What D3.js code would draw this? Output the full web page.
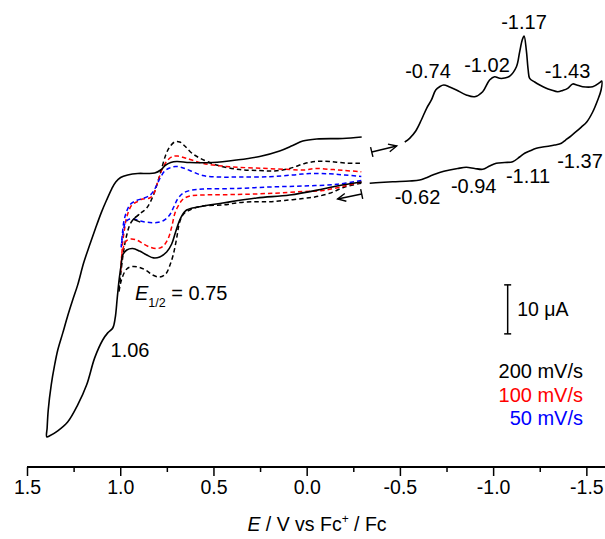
<!DOCTYPE html>
<html><head><meta charset="utf-8">
<script src="https://cdn.jsdelivr.net/npm/d3@7"></script>
<style>
body{margin:0;background:#fff}
svg{display:block}
text{font-family:"Liberation Sans",Arial,Helvetica,sans-serif;fill:#000}
</style>
</head><body><div id="chart"></div>
<script>
// ---------- DATA (E in V vs Fc+/Fc, I in µA, cathodic up) ----------
// wide scan, positive region (solid black)
const wideScanPos = [[-0.295,-0.41],[-0.177,-1.12],[-0.086,-1.84],[0.091,-3.06],[0.268,-3.67],[0.450,-4.69],[0.574,-5.45],[0.644,-6.12],[0.676,-7.76],[0.703,-10.6],[0.724,-13.06],[0.751,-14.7],[0.788,-15.7],[0.821,-15.9],[0.858,-15.3],[0.896,-14.5],[0.933,-13.98],[0.965,-14.29],[0.987,-15.3],[0.995,-17.35],[1.006,-20.4],[1.016,-24.08],[1.027,-28.16],[1.040,-30.2],[1.067,-31.2],[1.094,-32.65],[1.137,-36.3],[1.180,-41.8],[1.228,-45.9],[1.282,-49.4],[1.335,-51.2],[1.378,-52.2],[1.394,-52.4],[1.392,-50.6],[1.386,-46.9],[1.370,-41.8],[1.352,-37.8],[1.335,-34.7],[1.308,-31.2],[1.282,-27.76],[1.255,-24.5],[1.228,-21.4],[1.196,-16.9],[1.164,-13.27],[1.132,-9.8],[1.100,-6.5],[1.073,-4.08],[1.046,-1.84],[1.024,-0.41],[0.998,0.51],[0.960,1.02],[0.906,1.33],[0.853,1.33],[0.815,1.43],[0.783,2.04],[0.756,3.06],[0.729,3.57],[0.697,3.78],[0.627,3.57],[0.504,3.57],[0.375,4.08],[0.252,4.80],[0.145,5.92],[0.075,7.04],[0.021,7.96],[-0.054,8.37],[-0.193,8.47],[-0.295,8.78]];
// wide scan, negative region (solid black)
const wideScanNeg = [[-0.526,7.76],[-0.552,8.51],[-0.585,10.0],[-0.615,12.24],[-0.644,14.69],[-0.669,16.33],[-0.692,18.37],[-0.713,19.04],[-0.735,19.39],[-0.767,18.98],[-0.803,18.37],[-0.856,17.35],[-0.901,17.0],[-0.944,18.02],[-0.981,20.41],[-1.008,21.08],[-1.035,20.75],[-1.062,20.8],[-1.089,21.2],[-1.125,23.12],[-1.142,26.1],[-1.156,28.57],[-1.166,29.39],[-1.178,26.5],[-1.188,22.45],[-1.196,20.75],[-1.223,20.0],[-1.250,19.39],[-1.282,18.78],[-1.312,18.37],[-1.346,18.0],[-1.373,18.27],[-1.400,18.7],[-1.427,19.6],[-1.448,19.39],[-1.480,19.04],[-1.534,19.04],[-1.571,19.86],[-1.582,20.2],[-1.579,18.37],[-1.561,16.33],[-1.534,13.88],[-1.502,11.84],[-1.473,10.8],[-1.443,9.8],[-1.420,9.08],[-1.389,8.16],[-1.366,7.49],[-1.330,7.14],[-1.303,6.94],[-1.266,6.73],[-1.232,6.47],[-1.196,5.92],[-1.169,5.45],[-1.142,4.69],[-1.105,3.73],[-1.062,3.57],[-1.017,3.41],[-0.981,2.86],[-0.944,2.18],[-0.901,2.35],[-0.856,2.59],[-0.810,2.35],[-0.767,2.04],[-0.713,1.53],[-0.676,1.02],[-0.638,0.41],[-0.606,0],[-0.552,-0.2],[-0.461,-0.35],[-0.392,-0.51],[-0.338,-0.67]];
// 200 mV/s (black dashed)
const cv200 = [[-0.293,-0.67],[-0.204,-1.43],[-0.123,-2.71],[-0.043,-3.47],[0.021,-3.78],[0.118,-4.18],[0.198,-4.43],[0.270,-4.43],[0.359,-4.59],[0.450,-5.10],[0.558,-5.31],[0.627,-6.12],[0.660,-6.94],[0.681,-8.57],[0.699,-12.24],[0.716,-15.3],[0.735,-17.55],[0.756,-19.18],[0.788,-19.8],[0.826,-19.39],[0.860,-18.47],[0.896,-17.86],[0.933,-17.65],[0.965,-18.16],[0.992,-20.2],[1.008,-22.86],[0.998,-19.39],[0.981,-14.29],[0.965,-11.22],[0.949,-9.18],[0.928,-7.96],[0.896,-6.94],[0.858,-5.71],[0.826,-3.47],[0.804,-1.02],[0.783,1.63],[0.756,5.1],[0.735,6.73],[0.708,7.76],[0.681,7.76],[0.654,6.94],[0.617,5.51],[0.574,4.49],[0.484,3.06],[0.359,2.14],[0.252,1.94],[0.172,1.84],[0.091,2.35],[0.011,3.37],[-0.059,3.82],[-0.123,3.78],[-0.204,3.47],[-0.293,3.41]];
// 100 mV/s (red dashed)
const cv100 = [[-0.293,-0.41],[-0.204,-1.22],[-0.086,-2.14],[0.021,-2.35],[0.182,-2.71],[0.375,-2.96],[0.558,-3.06],[0.627,-3.27],[0.665,-3.98],[0.692,-5.51],[0.708,-6.94],[0.724,-9.59],[0.745,-12.14],[0.772,-13.57],[0.799,-13.98],[0.842,-13.67],[0.880,-12.96],[0.912,-12.24],[0.944,-12.04],[0.968,-12.45],[0.987,-14.29],[0.995,-16.73],[0.998,-18.78],[0.994,-16.94],[0.987,-12.86],[0.976,-9.8],[0.965,-7.55],[0.938,-5.1],[0.912,-4.49],[0.880,-3.88],[0.842,-3.67],[0.821,-2.86],[0.799,-0.41],[0.772,2.45],[0.745,4.08],[0.719,4.8],[0.692,4.9],[0.645,4.43],[0.558,3.41],[0.413,2.71],[0.236,2.39],[0.091,2.14],[0.011,2.04],[-0.043,2.35],[-0.123,2.18],[-0.204,1.94],[-0.293,1.69]];
// 50 mV/s (blue dashed)
const cv50 = [[-0.293,-0.1],[-0.161,-0.88],[0.021,-1.22],[0.198,-1.43],[0.375,-1.73],[0.558,-1.84],[0.627,-2.14],[0.665,-2.76],[0.692,-3.88],[0.713,-5.51],[0.735,-7.14],[0.767,-8.27],[0.804,-8.67],[0.842,-8.67],[0.880,-8.47],[0.917,-8.06],[0.949,-7.96],[0.971,-8.57],[0.984,-10.61],[0.995,-13.67],[0.989,-11.22],[0.981,-8.57],[0.965,-6.33],[0.944,-4.9],[0.912,-4.18],[0.880,-3.78],[0.842,-3.16],[0.821,-2.24],[0.804,-1.02],[0.783,0.61],[0.761,1.84],[0.735,2.45],[0.703,2.76],[0.670,2.55],[0.627,1.94],[0.558,0.92],[0.467,0.61],[0.359,0.61],[0.198,0.67],[0.075,1.02],[-0.016,1.33],[-0.123,1.27],[-0.204,1.02],[-0.293,0.71]];

const tickValues = [1.5, 1.0, 0.5, 0.0, -0.5, -1.0, -1.5];
const tickLabels = ["1.5", "1.0", "0.5", "0.0", "-0.5", "-1.0", "-1.5"];
const minorTickValues = [1.25, 0.75, 0.25, -0.25, -0.75, -1.25];
const legendLabels = ["200 mV/s", "100 mV/s", "50 mV/s"];
const peakLabels = ["-0.74", "-1.02", "-1.17", "-1.43", "-0.62", "-0.94", "-1.11", "-1.37", "1.06"];
const scaleBarValue = 10; // µA
const scaleBarE = -1.078, scaleBarTopI = -21.4;
// scan direction arrows: [tailE, tailI, headE, headI]
const scanArrows = [[-0.295, -2.86, -0.166, -3.88], [-0.349, 5.71, -0.483, 6.94]];
// small direction chevron on the 200 mV/s trace: [E, I]
const dashChevron = [0.93, -8.0];

// ---------- LAYOUT ----------
const W = 605, H = 539;
const colors = ["#000000", "#ff0000", "#0000ff"];
const FS = 19.5, FL = 20;
const x = d3.scaleLinear().domain([1.5, -1.6]).range([27, 605]);
const y = d3.scaleLinear().domain([-60, 40]).range([474, -16]);
const axisY = 467;

const svg = d3.select("#chart").append("svg").attr("width", W).attr("height", H);

const line = d3.line().x(d => x(d[0])).y(d => y(d[1])).curve(d3.curveCatmullRom.alpha(0.5));

// dashed CVs
[[cv200, colors[0]], [cv100, colors[1]], [cv50, colors[2]]].forEach(([data, c]) => {
  svg.append("path").attr("d", line(data)).attr("fill", "none").attr("stroke", c)
    .attr("stroke-width", 1.5).attr("stroke-dasharray", "4.5,3");
});
// solid wide scan
[wideScanPos, wideScanNeg].forEach(data => {
  svg.append("path").attr("d", line(data)).attr("fill", "none").attr("stroke", "#000")
    .attr("stroke-width", 1.6).attr("stroke-linejoin", "round");
});

// scan arrows
scanArrows.forEach(([tE, tI, hE, hI]) => {
  const tx = x(tE), ty = y(tI), hx = x(hE), hy = y(hI);
  const dx = hx - tx, dy = hy - ty, L = Math.hypot(dx, dy), ux = dx / L, uy = dy / L;
  const g = svg.append("g").attr("stroke", "#000").attr("stroke-width", 1.4).attr("fill", "none");
  g.append("line").attr("x1", tx).attr("y1", ty).attr("x2", hx).attr("y2", hy);
  g.append("line").attr("x1", tx - uy * 5).attr("y1", ty + ux * 5).attr("x2", tx + uy * 5).attr("y2", ty - ux * 5);
  const a = 0.45, len = 9;
  const b1 = [hx - len * (ux * Math.cos(a) - uy * Math.sin(a)), hy - len * (uy * Math.cos(a) + ux * Math.sin(a))];
  const b2 = [hx - len * (ux * Math.cos(a) + uy * Math.sin(a)), hy - len * (uy * Math.cos(a) - ux * Math.sin(a))];
  g.append("path").attr("d", `M${b1[0]},${b1[1]}L${hx},${hy}L${b2[0]},${b2[1]}`);
});
// chevron
{
  const cx = x(dashChevron[0]), cy = y(dashChevron[1]);
  svg.append("path").attr("d", `M${cx + 6},${cy - 5}L${cx},${cy}L${cx + 7},${cy + 3}`)
    .attr("fill", "none").attr("stroke", "#000").attr("stroke-width", 1.3);
}

// x axis
const axis = d3.axisBottom(x).tickValues(tickValues)
  .tickFormat((d, i) => tickLabels[i]).tickSize(9).tickPadding(4);
const gAx = svg.append("g").attr("transform", `translate(0,${axisY})`).call(axis);
gAx.select(".domain").attr("stroke-width", 2).attr("d", `M${x(1.5)},0H${W}`);
gAx.selectAll(".tick line").attr("stroke-width", 1.5);
gAx.selectAll(".tick text").attr("font-size", FS).attr("font-family", '"Liberation Sans",Arial,sans-serif').attr("fill", "#000");
const minorAxis = d3.axisBottom(x).tickValues(minorTickValues).tickFormat("").tickSize(5);
const gMin = svg.append("g").attr("transform", `translate(0,${axisY})`).call(minorAxis);
gMin.select(".domain").remove();
gMin.selectAll(".tick line").attr("stroke-width", 1.5);

// axis title
const title = svg.append("text").attr("x", 317).attr("y", 531).attr("text-anchor", "middle").attr("font-size", FS);
title.append("tspan").attr("font-style", "italic").text("E");
title.append("tspan").text(" / V vs Fc");
title.append("tspan").attr("font-size", 12).attr("dy", -8).text("+");
title.append("tspan").attr("dy", 8).text(" / Fc");

// peak labels
const peakPos = [[428, 78], [487, 72], [524, 29], [567.5, 78], [417.5, 204], [473.7, 193], [528, 183], [580, 168], [130, 357]];
peakLabels.forEach((t, i) => {
  svg.append("text").attr("x", peakPos[i][0]).attr("y", peakPos[i][1])
    .attr("text-anchor", "middle").attr("font-size", FL).text(t);
});

// E1/2 label
const e12 = svg.append("text").attr("x", 135).attr("y", 300).attr("font-size", FL);
e12.append("tspan").attr("font-style", "italic").text("E");
e12.append("tspan").attr("font-size", 12.5).attr("dy", 7).text("1/2");
e12.append("tspan").attr("dy", -7).text(" = 0.75");

// scale bar
const sbx = x(scaleBarE), sy1 = y(scaleBarTopI), sy2 = y(scaleBarTopI - scaleBarValue);
const sb = svg.append("g").attr("stroke", "#000").attr("stroke-width", 1.5);
sb.append("line").attr("x1", sbx).attr("x2", sbx).attr("y1", sy1).attr("y2", sy2);
sb.append("line").attr("x1", sbx - 3.5).attr("x2", sbx + 3.5).attr("y1", sy1).attr("y2", sy1);
sb.append("line").attr("x1", sbx - 3.5).attr("x2", sbx + 3.5).attr("y1", sy2).attr("y2", sy2);
svg.append("text").attr("x", sbx + 9.5).attr("y", (sy1 + sy2) / 2 + 6.5).attr("font-size", FS).text(scaleBarValue + " μA");

// legend
legendLabels.forEach((t, i) => {
  svg.append("text").attr("x", 583).attr("y", 378 + i * 23.5).attr("text-anchor", "end")
    .attr("font-size", FL).attr("fill", colors[i]).style("fill", colors[i]).text(t);
});
</script>
</body></html>
